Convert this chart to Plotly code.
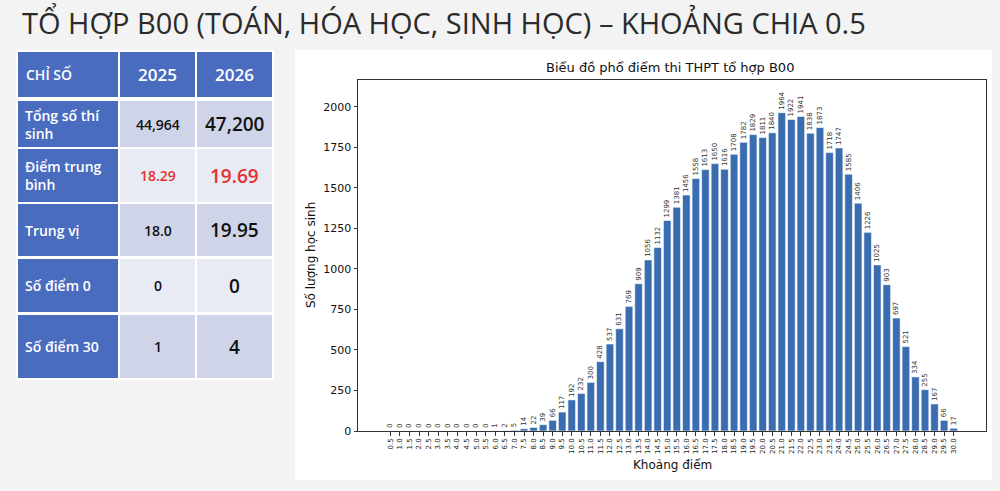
import plotly.graph_objects as go

# ---------------- data ----------------
score_labels = ["0.5", "1.0", "1.5", "2.0", "2.5", "3.0", "3.5", "4.0", "4.5", "5.0",
                "5.5", "6.0", "6.5", "7.0", "7.5", "8.0", "8.5", "9.0", "9.5", "10.0",
                "10.5", "11.0", "11.5", "12.0", "12.5", "13.0", "13.5", "14.0", "14.5", "15.0",
                "15.5", "16.0", "16.5", "17.0", "17.5", "18.0", "18.5", "19.0", "19.5", "20.0",
                "20.5", "21.0", "21.5", "22.0", "22.5", "23.0", "23.5", "24.0", "24.5", "25.0",
                "25.5", "26.0", "26.5", "27.0", "27.5", "28.0", "28.5", "29.0", "29.5", "30.0"]
student_counts = [0, 0, 0, 0, 0, 0, 0, 0, 0, 0,
                  0, 1, 2, 5, 14, 22, 39, 66, 117, 192,
                  232, 300, 428, 537, 631, 769, 909, 1056, 1132, 1299,
                  1381, 1456, 1558, 1613, 1650, 1616, 1708, 1782, 1829, 1811,
                  1840, 1964, 1922, 1941, 1838, 1873, 1718, 1747, 1585, 1406,
                  1226, 1025, 903, 697, 521, 334, 255, 167, 66, 17]
y_ticks = [0, 250, 500, 750, 1000, 1250, 1500, 1750, 2000]

slide_title = "TỔ HỢP B00 (TOÁN, HÓA HỌC, SINH HỌC) – KHOẢNG CHIA 0.5"
chart_title = "Biểu đồ phổ điểm thi THPT tổ hợp B00"
x_title = "Khoảng điểm"
y_title = "Số lượng học sinh"

table_header = ["CHỈ SỐ", "2025", "2026"]
row_names = ["Tổng số thí<br>sinh", "Điểm trung<br>bình", "Trung vị", "Số điểm 0", "Số điểm 30"]
values_2025 = ["44,964", "18.29", "18.0", "0", "1"]
values_2026 = ["47,200", "19.69", "19.95", "0", "4"]
highlight_rows = [1]  # average score row shown in red

# ---------------- geometry helpers (pixel -> paper) ----------------
W, H = 1000, 491
L, R, T, B = 358, 986, 80, 431


def px(x):
    return (x - L) / (R - L)


def py(y):
    return (B - y) / (B - T)


BLUE = "#4a6cbf"
LIGHT1 = "#cfd4e8"
LIGHT2 = "#e8ebf4"
BAR = "#3a6db0"
FONT = "DejaVu Sans"
TFONT = "Open Sans"

fig = go.Figure()
fig.add_trace(go.Bar(
    x=score_labels, y=student_counts,
    marker=dict(color=BAR, line=dict(color="#ffffff", width=0.6)),
    text=[str(v) for v in student_counts],
    textposition="outside", textangle=-90,
    textfont=dict(family=FONT, size=7, color="#333333"),
    constraintext="none", cliponaxis=False,
    hoverinfo="x+y",
))

shapes = []
annotations = []

# white chart panel
shapes.append(dict(type="rect", xref="paper", yref="paper", layer="below",
                   x0=px(295), x1=px(992), y0=py(480), y1=py(50),
                   fillcolor="#ffffff", line=dict(width=0)))

# table background
shapes.append(dict(type="rect", xref="paper", yref="paper", layer="below",
                   x0=px(16), x1=px(274), y0=py(380), y1=py(50),
                   fillcolor="#ffffff", line=dict(width=0)))

col_x = [(18, 118), (120, 195), (197, 272)]
header_y = (52, 97)
row_y = [(101, 147), (149, 202), (204, 256), (259, 312), (315, 378)]

# header cells
for ci, (x0, x1) in enumerate(col_x):
    shapes.append(dict(type="rect", xref="paper", yref="paper", layer="below",
                       x0=px(x0), x1=px(x1), y0=py(header_y[1]), y1=py(header_y[0]),
                       fillcolor=BLUE, line=dict(width=0)))
yc = py((header_y[0] + header_y[1]) / 2)
annotations.append(dict(xref="paper", yref="paper", x=px(24), y=yc, xanchor="left", yanchor="middle",
                        text=table_header[0], showarrow=False,
                        font=dict(family=TFONT, size=14, color="#ffffff", weight=600)))
for ci in (1, 2):
    x0, x1 = col_x[ci]
    annotations.append(dict(xref="paper", yref="paper", x=px((x0 + x1) / 2), y=yc,
                            xanchor="center", yanchor="middle", text=table_header[ci], showarrow=False,
                            font=dict(family=TFONT, size=17, color="#ffffff", weight=600)))

# body cells
for ri, (y0, y1) in enumerate(row_y):
    fill = LIGHT1 if ri % 2 == 0 else LIGHT2
    for ci, (x0, x1) in enumerate(col_x):
        shapes.append(dict(type="rect", xref="paper", yref="paper", layer="below",
                           x0=px(x0), x1=px(x1), y0=py(y1), y1=py(y0),
                           fillcolor=BLUE if ci == 0 else fill, line=dict(width=0)))
    yc = py((y0 + y1) / 2)
    annotations.append(dict(xref="paper", yref="paper", x=px(23), y=yc, xanchor="left", yanchor="middle",
                            align="left", text=row_names[ri], showarrow=False,
                            font=dict(family=TFONT, size=14, color="#ffffff", weight=600)))
    color = "#e53030" if ri in highlight_rows else "#111111"
    annotations.append(dict(xref="paper", yref="paper", x=px((col_x[1][0] + col_x[1][1]) / 2), y=yc,
                            xanchor="center", yanchor="middle", text=values_2025[ri], showarrow=False,
                            font=dict(family=TFONT, size=14, color=color, weight=600)))
    annotations.append(dict(xref="paper", yref="paper", x=px((col_x[2][0] + col_x[2][1]) / 2), y=yc,
                            xanchor="center", yanchor="middle", text=values_2026[ri], showarrow=False,
                            font=dict(family=TFONT, size=19, color=color, weight=600)))

# slide title
annotations.append(dict(xref="paper", yref="paper", x=px(20), y=py(22), xanchor="left", yanchor="middle",
                        text=slide_title, showarrow=False,
                        font=dict(family="Open Sans", size=29, color="#2b2b2b", weight=500)))
# chart title
annotations.append(dict(xref="paper", yref="paper", x=px(670), y=py(68), xanchor="center", yanchor="middle",
                        text=chart_title, showarrow=False,
                        font=dict(family=FONT, size=13, color="#111111")))
# axis titles
annotations.append(dict(xref="paper", yref="paper", x=px(672), y=py(465), xanchor="center", yanchor="middle",
                        text=x_title, showarrow=False,
                        font=dict(family=FONT, size=12, color="#111111")))
annotations.append(dict(xref="paper", yref="paper", x=px(311), y=py(255), xanchor="center", yanchor="middle",
                        text=y_title, showarrow=False, textangle=-90,
                        font=dict(family=FONT, size=12, color="#111111")))

fig.update_layout(
    width=W, height=H,
    margin=dict(l=L, r=W - R, t=T, b=H - B, pad=0),
    paper_bgcolor="#f3f3f3", plot_bgcolor="#ffffff",
    showlegend=False, bargap=0.2,
    shapes=shapes, annotations=annotations,
)
fig.update_xaxes(
    type="category", range=[-3.39, 62.39],
    tickangle=-90, tickfont=dict(family=FONT, size=7, color="#222222"),
    ticks="outside", ticklen=3.5, tickcolor="#333333", tickwidth=0.8,
    showline=True, linecolor="#333333", linewidth=1, mirror=True,
    showgrid=False, zeroline=False,
)
fig.update_yaxes(
    range=[0, 2166], tickvals=y_ticks,
    tickfont=dict(family=FONT, size=11, color="#111111"),
    ticks="outside", ticklen=3.5, tickcolor="#333333", tickwidth=0.8,
    showline=True, linecolor="#333333", linewidth=1, mirror=True,
    showgrid=False, zeroline=False,
)

fig.write_html("out.html")
